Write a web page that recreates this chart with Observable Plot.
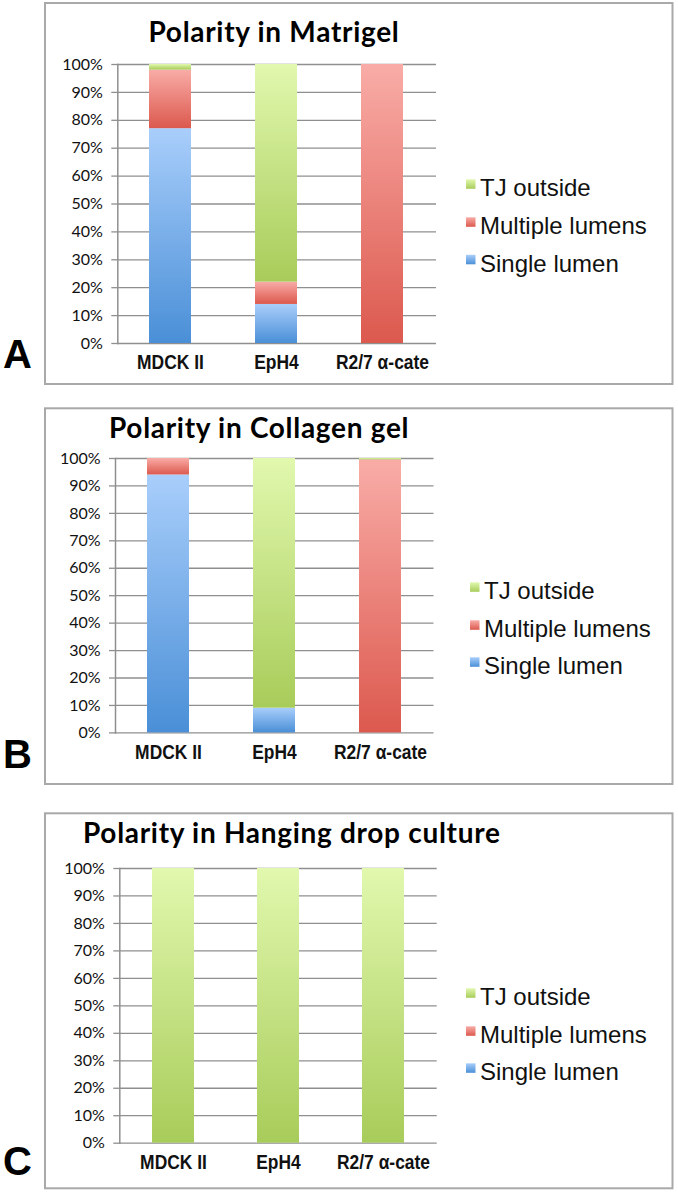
<!DOCTYPE html>
<html>
<head>
<meta charset="utf-8">
<script src="https://cdn.jsdelivr.net/npm/d3@7"></script>
<script src="https://cdn.jsdelivr.net/npm/@observablehq/plot@0.6"></script>
<style>
  html, body { margin: 0; padding: 0; background: #fff; }
  #page { position: relative; width: 678px; height: 1193px; overflow: hidden; }
  #overlay { position: absolute; left: 0; top: 0; }
  .panel { position: absolute; left: 0; }
</style>
</head>
<body>
<div id="page">
<svg id="overlay" width="678" height="1193">
  <defs>
    <linearGradient id="gBlue" x1="0" y1="0" x2="0" y2="1">
      <stop offset="0" stop-color="#a9cefb"/><stop offset="1" stop-color="#4a8fd7"/>
    </linearGradient>
    <linearGradient id="gRed" x1="0" y1="0" x2="0" y2="1">
      <stop offset="0" stop-color="#f9aca7"/><stop offset="1" stop-color="#dc594e"/>
    </linearGradient>
    <linearGradient id="gGreen" x1="0" y1="0" x2="0" y2="1">
      <stop offset="0" stop-color="#e1f8ae"/><stop offset="1" stop-color="#a8cc5a"/>
    </linearGradient>
  </defs>
</svg>
</div>
<script>
// ---- data ----
const cells = ["MDCK II", "EpH4", "R2/7 α-cate"];
const seriesNames = ["Single lumen", "Multiple lumens", "TJ outside"];
const legendOrder = ["TJ outside", "Multiple lumens", "Single lumen"];
const yTicks = [0, 10, 20, 30, 40, 50, 60, 70, 80, 90, 100];
const titles = ["Polarity in Matrigel", "Polarity in Collagen gel", "Polarity in Hanging drop culture"];
const panelLetters = ["A", "B", "C"];

const matrigelSingle   = [77, 14, 0];
const matrigelMultiple = [21, 8, 100];
const matrigelTJ       = [2, 78, 0];

const collagenSingle   = [94, 9, 0];
const collagenMultiple = [6, 0, 99.5];
const collagenTJ       = [0, 91, 0.5];

const hangingSingle    = [0, 0, 0];
const hangingMultiple  = [0, 0, 0];
const hangingTJ        = [100, 100, 100];

function rowsOf(single, multiple, tj) {
  const rows = [];
  cells.forEach((c, i) => {
    rows.push({cell: c, series: "Single lumen", value: single[i]});
    rows.push({cell: c, series: "Multiple lumens", value: multiple[i]});
    rows.push({cell: c, series: "TJ outside", value: tj[i]});
  });
  return rows;
}

const fills = ["url(#gBlue)", "url(#gRed)", "url(#gGreen)"];
const gridColor = "#8f8f8f";

// layout (page coordinates)
const layouts = [
  {rows: rowsOf(matrigelSingle, matrigelMultiple, matrigelTJ), axisX: 117.3, xEnd: 436, yTop: 64.3, yBottom: 343.3},
  {rows: rowsOf(collagenSingle, collagenMultiple, collagenTJ), axisX: 115, xEnd: 433.5, yTop: 458.3, yBottom: 732.7},
  {rows: rowsOf(hangingSingle, hangingMultiple, hangingTJ), axisX: 119.3, xEnd: 436.7, yTop: 867.6, yBottom: 1142.3}
];

const page = document.getElementById("page");
const W = 470, mt = 10, mb = 45;

layouts.forEach((L) => {
  const chart = Plot.plot({
    width: W,
    height: mt + (L.yBottom - L.yTop) + mb,
    marginLeft: L.axisX,
    marginRight: W - L.xEnd,
    marginTop: mt,
    marginBottom: mb,
    style: {background: "transparent", overflow: "visible", fontFamily: "Lato, sans-serif"},
    x: {domain: cells, paddingInner: 0.6, paddingOuter: 0.3, label: null},
    y: {domain: [0, 100], label: null},
    color: {domain: seriesNames, range: fills},
    marks: [
      Plot.gridY(yTicks, {stroke: gridColor, strokeOpacity: 1, strokeWidth: 1.3}),
      Plot.barY(L.rows, {x: "cell", y: "value", fill: "series"}),
      Plot.axisY(yTicks, {tickSize: 6, tickPadding: 9, stroke: gridColor, strokeWidth: 1.3,
        tickFormat: d => d + "%", fontSize: 16, fontFamily: "Lato, sans-serif", fill: "#111", label: null}),
      Plot.axisX({tickSize: 0, tickPadding: 11, fontSize: 21, fontWeight: "bold",
        fontFamily: "'Liberation Sans', Arial, sans-serif", fill: "#111", label: null}),
      Plot.frame({anchor: "left", stroke: gridColor, strokeWidth: 1.5})
    ]
  });
  chart.classList.add("panel");
  chart.style.top = (L.yTop - mt) + "px";
  chart.style.left = "0px";
  chart.style.position = "absolute";
  chart.style.maxWidth = "none";
  page.appendChild(chart);
  // condensed bold category labels
  d3.select(chart).selectAll("text").each(function() {
    const t = d3.select(this);
    if (!cells.includes(t.text())) return;
    const w = this.getComputedTextLength();
    t.attr("textLength", (w * 0.83).toFixed(1)).attr("lengthAdjust", "spacingAndGlyphs");
  });
});

// ---- overlay: frames, letters, titles, legends ----
const ov = d3.select("#overlay");
const boxes = [
  {x: 45, y: 3, w: 627.5, h: 381},
  {x: 45, y: 408.3, w: 627.5, h: 375.7},
  {x: 45, y: 813.3, w: 627.5, h: 375}
];
boxes.forEach(b => {
  ov.append("rect").attr("x", b.x).attr("y", b.y).attr("width", b.w).attr("height", b.h)
    .attr("fill", "none").attr("stroke", "#a9a9a9").attr("stroke-width", 2);
});
const letterBase = [368, 768, 1175];
panelLetters.forEach((l, i) => {
  ov.append("text").attr("x", 3).attr("y", letterBase[i]).text(l)
    .attr("font-family", "'Liberation Sans', Arial, sans-serif").attr("font-weight", "bold").attr("font-size", 40).attr("fill", "#000");
});
const titlePos = [
  {x: 274, y: 42, anchor: "middle"},
  {x: 109, y: 438, anchor: "start"},
  {x: 83, y: 843, anchor: "start"}
];
titles.forEach((t, i) => {
  ov.append("text").attr("x", titlePos[i].x).attr("y", titlePos[i].y).attr("text-anchor", titlePos[i].anchor)
    .text(t).attr("font-family", "Lato, sans-serif").attr("font-weight", "bold").attr("font-size", 28)
    .attr("letter-spacing", 0.7).attr("fill", "#000");
});
const legendPos = [
  {sx: 466, tx: 480, base: [196, 234, 271.5]},
  {sx: 470, tx: 484, base: [599, 637, 674]},
  {sx: 466, tx: 480, base: [1005, 1043, 1080]}
];
const legendFill = {"TJ outside": "url(#gGreen)", "Multiple lumens": "url(#gRed)", "Single lumen": "url(#gBlue)"};
legendPos.forEach(p => {
  legendOrder.forEach((s, j) => {
    ov.append("rect").attr("x", p.sx).attr("y", p.base[j] - 16.7).attr("width", 9.5).attr("height", 9.5).attr("fill", legendFill[s]);
    ov.append("text").attr("x", p.tx).attr("y", p.base[j]).text(s)
      .attr("font-family", "'Liberation Sans', Arial, sans-serif").attr("font-size", 24).attr("fill", "#111");
  });
});
</script>
</body>
</html>
